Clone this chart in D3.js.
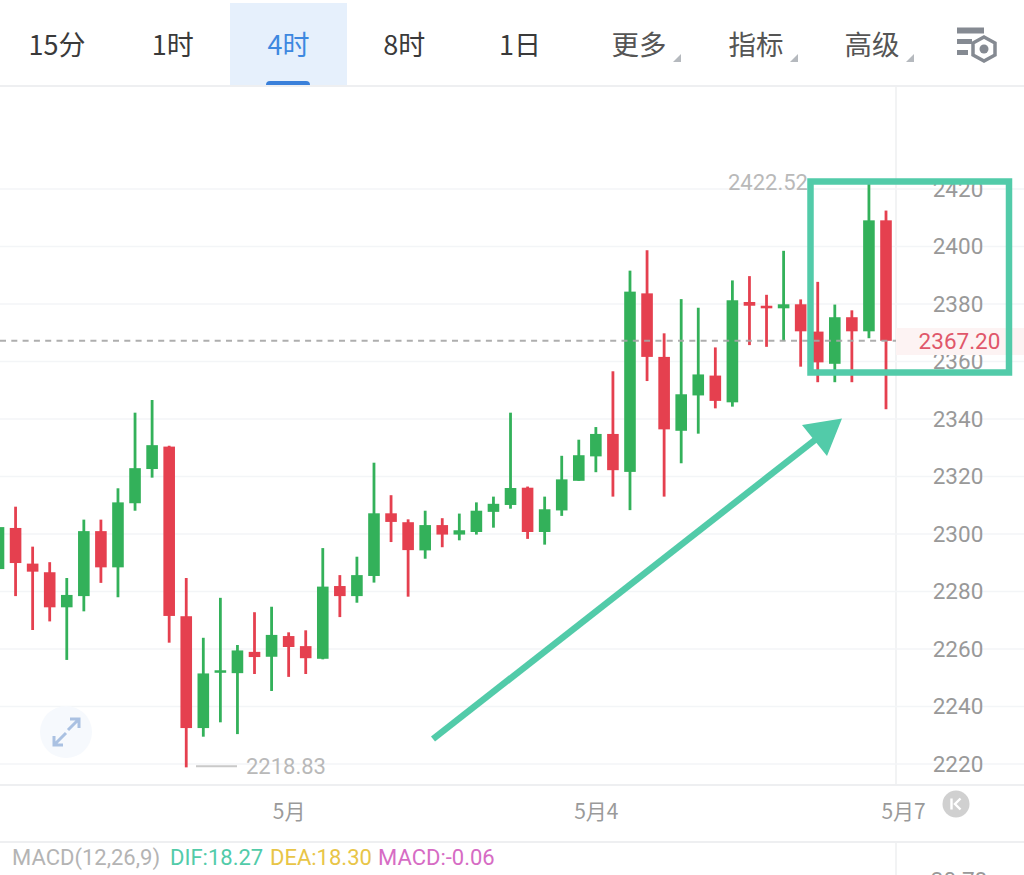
<!DOCTYPE html>
<html><head><meta charset="utf-8">
<style>html,body{margin:0;padding:0;background:#fff;overflow:hidden}svg{display:block}</style>
<script src="https://cdn.jsdelivr.net/npm/d3@7"></script></head>
<body><svg id="c" width="1024" height="875"></svg>
<script>
const opens=[2287.8,2302.1,2289.7,2286.7,2274.5,2278.4,2301,2288.4,2310.7,2322.6,2330.4,2271.4,2232.5,2251.8,2251.6,2259,2257.3,2264.5,2261,2256.6,2281.9,2278.4,2285.4,2307.2,2304.1,2294.3,2303.1,2299.8,2300.7,2307.7,2310.1,2316.1,2300.7,2308.2,2318.5,2327,2334.8,2321.6,2383.7,2361.6,2335.9,2348.2,2355.1,2345.8,2380.7,2379.4,2378.5,2379.9,2370.4,2359.2,2375.4,2370.5,2409.1];
const highs=[2303.5,2309.5,2295.6,2290.2,2284.7,2305,2305,2315.9,2342.2,2346.6,2330.7,2284.7,2263.9,2277.8,2261.4,2272.8,2274.7,2265.8,2266.5,2295.1,2285.7,2292.1,2324.8,2313.5,2305.1,2308.1,2305.5,2307.1,2311,2313,2342.2,2316.5,2313,2327.2,2332.8,2337.2,2356.6,2391.6,2398.7,2369.8,2381.7,2378.7,2364.9,2388.2,2389.7,2383.2,2398.5,2381.6,2387.7,2379.8,2377.8,2422.52,2412.5];
const lows=[2286.8,2278.4,2266.6,2269.6,2256.2,2273.1,2283,2278,2308.1,2319.6,2262.2,2218.83,2229.5,2234.5,2230.4,2251.3,2245.4,2250.3,2251.3,2256.4,2271.1,2276.1,2283.1,2297.2,2278.2,2291.4,2295.4,2297.8,2299.8,2302.2,2308.8,2298.3,2296.3,2306.3,2318.5,2321.5,2313,2308.3,2353.2,2313,2324.6,2334.9,2343.7,2344.3,2365.7,2365.1,2367.1,2358.2,2352.8,2352.8,2352.8,2368.1,2343.4];
const closes=[2302.4,2289.9,2286.9,2274.5,2278.8,2301,2288.4,2311,2322.9,2330.9,2271.5,2232.5,2251.5,2252.6,2259.5,2257.2,2264.9,2260.7,2256.8,2281.7,2278.4,2285.7,2307.2,2304.2,2294.4,2303.1,2299.8,2301.3,2308.1,2310.5,2316,2300.7,2308.6,2319,2327.4,2334.8,2322.2,2384.3,2361.6,2336.4,2348.6,2355.5,2346.3,2381.3,2379.4,2378.5,2379.9,2370.5,2359.7,2375.4,2370.5,2409.1,2367.2];
const priceTicks=[2220,2240,2260,2280,2300,2320,2340,2360,2380,2400,2420];
const dateTicks=[17,35,53];
const dateLabels=["5月","5月4","5月7"];
const tabLabels=["15分","1时","4时","8时","1日","更多","指标","高级"];
const activeTab="4时";
const menuTabs=["更多","指标","高级"];
const lastPrice=2367.20, maxPrice=2422.52, minPrice=2218.83;
const macdParts=[["MACD(12,26,9)","#b4b4b4"],["DIF:18.27","#52cba9"],["DEA:18.30","#e8c547"],["MACD:-0.06","#d66cc4"]];
const macdX=[12,170,270,378];
const macdAxisTop="30.78";

const CJK='"Noto Sans CJK SC",Roboto,sans-serif';
const NUM='Roboto,"Noto Sans CJK SC",sans-serif';
const svg=d3.select("#c");
const y=d3.scaleLinear().domain([2220,2420]).range([764,189]);
const x=d3.scaleLinear().domain([0,52]).range([-1.5,886]);
const tabX=d3.scalePoint().domain(tabLabels.slice(0,5)).range([57,520]);
const tabPos=l=>({"更多":639,"指标":756,"高级":872}[l]??tabX(l));

// top bar
svg.append("rect").attr("x",230).attr("y",3).attr("width",117).attr("height",83).attr("fill","#e6f0fc");
svg.append("path").attr("d","M266,86v-1a4,4 0 0 1 4,-4h36a4,4 0 0 1 4,4v1z").attr("fill","#3a80da");
svg.selectAll("text.tab").data(tabLabels).join("text").attr("class","tab")
 .attr("x",tabPos).attr("y",55).attr("text-anchor","middle").attr("font-family",CJK).attr("font-size",d=>menuTabs.includes(d)?27.5:27)
 .attr("fill",d=>d===activeTab?"#3d88e0":menuTabs.includes(d)?"#555":"#3a3a3a").text(d=>d);
svg.selectAll("path.tri").data(menuTabs).join("path").attr("class","tri")
 .attr("d",d=>{const a=tabPos(d)+42;return `M${a},62h-8l8,-8z`}).attr("fill","#b5b9be");
// settings icon
const ic=svg.append("g").attr("fill","#858a92");
ic.append("rect").attr("x",957).attr("y",27.5).attr("width",27).attr("height",6);
ic.append("rect").attr("x",957).attr("y",39).attr("width",15).attr("height",5);
ic.append("rect").attr("x",957).attr("y",50).attr("width",11).attr("height",5);
ic.append("path").attr("d","M984,37l11,6v12l-11,6l-11,-6v-12z").attr("fill","none").attr("stroke","#858a92").attr("stroke-width",3.5);
ic.append("circle").attr("cx",984).attr("cy",49).attr("r",4.5);

// frame
const frame=svg.append("g").attr("stroke","#eeeff1");
frame.append("line").attr("x1",0).attr("x2",1024).attr("y1",86).attr("y2",86).attr("stroke-width",2);
frame.append("line").attr("x1",0).attr("x2",1024).attr("y1",785).attr("y2",785).attr("stroke-width",2);
frame.append("line").attr("x1",0).attr("x2",1024).attr("y1",842).attr("y2",842).attr("stroke-width",2);
frame.append("line").attr("x1",896).attr("x2",896).attr("y1",86).attr("y2",785).attr("stroke-width",1.5);
frame.append("line").attr("x1",896).attr("x2",896).attr("y1",842).attr("y2",875).attr("stroke-width",1.5);

// grid
svg.append("g").selectAll("line").data(priceTicks).join("line")
 .attr("x1",0).attr("x2",1024).attr("y1",d=>y(d)).attr("y2",d=>y(d)).attr("stroke","#f3f5f7").attr("stroke-width",1.5);

// expand button
svg.append("circle").attr("cx",66).attr("cy",732).attr("r",26).attr("fill","#f6f9fd");
svg.append("path").attr("d","M54,745L66,733M54,736v9h9M79,719L68,730M70,719h9v9").attr("fill","none").attr("stroke","#aac1e2").attr("stroke-width",3);

// candles
const idx=d3.range(opens.length);
const col=i=>closes[i]>=opens[i]?"#33b15a":"#e5404f";
const g=svg.append("g");
g.selectAll("line").data(idx).join("line")
 .attr("x1",x).attr("x2",x).attr("y1",i=>y(highs[i])).attr("y2",i=>y(lows[i])).attr("stroke",col).attr("stroke-width",2.8);
g.selectAll("rect").data(idx).join("rect")
 .attr("x",i=>x(i)-5.8).attr("width",11.6)
 .attr("y",i=>y(Math.max(opens[i],closes[i])))
 .attr("height",i=>Math.max(2.5,Math.abs(y(opens[i])-y(closes[i])))).attr("fill",col);

// price axis
const ax=svg.append("g").attr("transform","translate(958,0)")
 .call(d3.axisRight(y).tickValues(priceTicks).tickSize(0).tickPadding(0).tickFormat(d3.format("d")));
ax.select(".domain").remove();
ax.selectAll("text").attr("text-anchor","middle").attr("font-family",NUM).attr("font-size",22.5).attr("fill","#999");

// date axis
const ax2=svg.append("g").attr("transform","translate(0,804)")
 .call(d3.axisBottom(d3.scaleLinear().domain([0,52]).range([-1.5,886])).tickValues(dateTicks).tickSize(0).tickPadding(0).tickFormat((d,i)=>dateLabels[i]));
ax2.select(".domain").remove();
ax2.selectAll("text").attr("font-family",CJK).attr("font-size",21).attr("fill","#9a9a9a");

// rewind button
svg.append("circle").attr("cx",956).attr("cy",804).attr("r",13.5).attr("fill","#d0d0d0");
svg.append("path").attr("d","M951.5,798.5v11M960.5,798.5l-5.5,5.5l5.5,5.5").attr("fill","none").attr("stroke","#fff").attr("stroke-width",2.4);

// last price
svg.append("line").attr("x1",0).attr("x2",896).attr("y1",y(lastPrice)).attr("y2",y(lastPrice))
 .attr("stroke","#a6a6a6").attr("stroke-width",2).attr("stroke-dasharray","6,5.3").attr("opacity",.9);
svg.append("rect").attr("x",896).attr("y",328).attr("width",128).attr("height",27).attr("fill","#fdf3f3");
svg.append("text").attr("x",959.5).attr("y",y(lastPrice)+8).attr("text-anchor","middle").attr("font-family",NUM).attr("font-size",22.5).attr("fill","#e0576a").text(lastPrice.toFixed(2));

// extremes
svg.append("text").attr("x",728).attr("y",y(maxPrice)+8).attr("font-family",NUM).attr("font-size",22).attr("fill","#b9b9b9").text(maxPrice.toFixed(2));
svg.append("line").attr("x1",196).attr("x2",237).attr("y1",y(minPrice)-1).attr("y2",y(minPrice)-1).attr("stroke","#c9c9c9").attr("stroke-width",2);
svg.append("text").attr("x",246).attr("y",y(minPrice)+7).attr("font-family",NUM).attr("font-size",22).attr("fill","#b9b9b9").text(minPrice.toFixed(2));

// macd legend
svg.append("g").selectAll("text").data(macdParts).join("text")
 .attr("x",(d,i)=>macdX[i]).attr("y",865).attr("font-family",NUM).attr("font-size",22)
 .attr("fill",d=>d[1]).text(d=>d[0]);
svg.append("text").attr("x",959).attr("y",888).attr("text-anchor","middle").attr("font-family",NUM).attr("font-size",22.5).attr("fill","#999").text(macdAxisTop);

// annotation
const teal="#52cba9";
svg.append("rect").attr("x",810.5).attr("y",181.5).attr("width",198.5).attr("height",191).attr("fill","none").attr("stroke",teal).attr("stroke-width",6.5);
svg.append("line").attr("x1",433).attr("y1",739).attr("x2",820).attr("y2",436).attr("stroke",teal).attr("stroke-width",6.5);
svg.append("path").attr("d","M842,418.5L802,425L827,456Z").attr("fill",teal);
</script></body></html>
